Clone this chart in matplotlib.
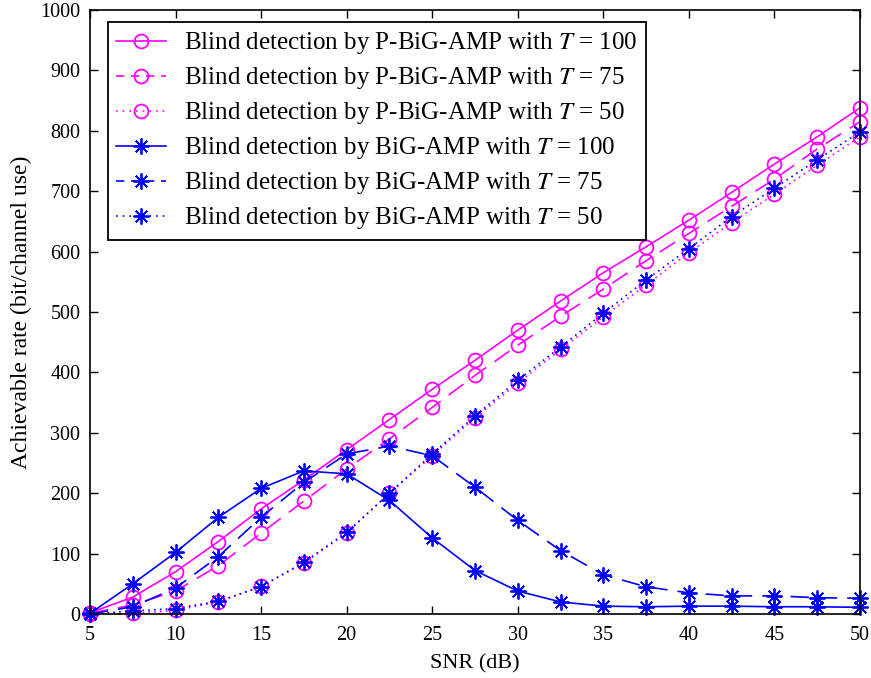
import numpy as np
import matplotlib
matplotlib.use("Agg")
import matplotlib.pyplot as plt
from matplotlib.legend_handler import HandlerLine2D

plt.rcParams['font.family'] = ['Liberation Serif', 'DejaVu Serif']
plt.rcParams['mathtext.fontset'] = 'stix'

# SNR axis (dB)
snr = [5, 7.5, 10, 12.5, 15, 17.5, 20, 22.5, 25, 27.5, 30, 32.5, 35, 37.5, 40, 42.5, 45, 47.5, 50]

# P-BiG-AMP
pbig_100 = [2, 28, 70, 120, 174, 222, 272, 322, 372, 420, 470, 518, 565, 608, 652, 698, 745, 790, 838]
pbig_75 = [1, 15, 38, 80, 134, 187, 240, 290, 342, 395, 445, 493, 538, 585, 630, 675, 720, 770, 815]
pbig_50 = [0, 1, 6, 20, 46, 84, 134, 200, 262, 325, 382, 438, 492, 545, 598, 648, 695, 743, 790]

# BiG-AMP
big_100 = [1, 50, 102, 160, 208, 237, 232, 188, 126, 72, 38, 20, 13, 12, 13, 13, 12, 12, 11]
big_75 = [0, 12, 43, 95, 160, 218, 265, 278, 262, 210, 155, 105, 65, 45, 35, 30, 30, 27, 26]
big_50 = [0, 5, 9, 21, 45, 86, 135, 200, 265, 328, 387, 442, 498, 553, 605, 658, 705, 752, 798]

labels_p = [r"Blind detection by P-BiG-AMP with $T$ = 100",
            r"Blind detection by P-BiG-AMP with $T$ = 75",
            r"Blind detection by P-BiG-AMP with $T$ = 50"]
labels_b = [r"Blind detection by BiG-AMP with $T$ = 100",
            r"Blind detection by BiG-AMP with $T$ = 75",
            r"Blind detection by BiG-AMP with $T$ = 50"]

magenta = (1, 0, 1)
blue = (0, 0, 1)
styles = ['-', (0, (11, 6)), (0, (1, 2.5))]
# shorter patterns so the legend handles show the style
leg_styles = ['-', (0, (5, 4)), (0, (1, 3))]
star = (8, 2, 0)

fig = plt.figure(figsize=(8.71, 6.78), dpi=100)
ax = fig.add_axes([90/871, 1 - 614/678, 770/871, 604/678])

lines = []
for ys, ls, lab in zip([pbig_100, pbig_75, pbig_50], styles, labels_p):
    l, = ax.plot(snr, ys, linestyle=ls, color=magenta, lw=1.2, marker='o', ms=10,
                 mfc='none', mew=1.3, label=lab, clip_on=False)
    lines.append(l)
for ys, ls, lab in zip([big_100, big_75, big_50], styles, labels_b):
    l, = ax.plot(snr, ys, linestyle=ls, color=blue, lw=1.2, marker=star, ms=11.5,
                 mew=1.3, label=lab, clip_on=False)
    lines.append(l)

ax.set_xlim(5, 50)
ax.set_ylim(0, 1000)
ax.set_xticks(np.arange(5, 51, 5))
ax.set_yticks(np.arange(0, 1001, 100))
ax.tick_params(direction='in', top=True, right=True, labelsize=14.5, length=6, width=1)
ax.tick_params(axis='x', pad=9)
ax.tick_params(axis='y', pad=7)
for s in ax.spines.values():
    s.set_linewidth(1.2)
ax.set_xlabel('SNR (dB)', fontsize=16, labelpad=6)
ax.set_ylabel('Achievable rate (bit/channel use)', fontsize=17, labelpad=6)


def leg_update(handle, orig):
    handle.update_from(orig)
    idx = lines.index(orig) % 3
    handle.set_linestyle(leg_styles[idx])


hmap = {l: HandlerLine2D(update_func=leg_update) for l in lines}
leg = ax.legend(handles=lines, handler_map=hmap, loc='upper left',
                bbox_to_anchor=(18/770, 592/604), borderaxespad=0,
                fontsize=18, fancybox=False, edgecolor='black', framealpha=1,
                handlelength=2.0, labelspacing=0.36, borderpad=0.33, handletextpad=0.72)
leg.get_frame().set_linewidth(1.3)

fig.savefig('out.png', dpi=100)
